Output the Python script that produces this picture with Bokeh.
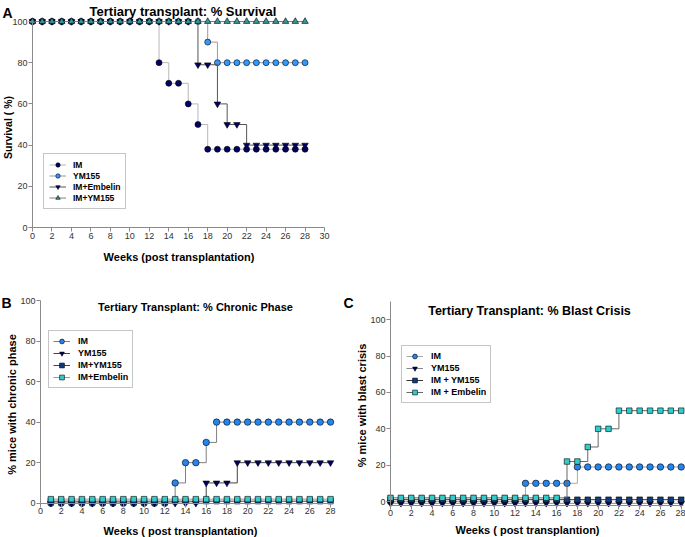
import math
from bokeh.plotting import figure
from bokeh.models import Range1d, Label, Legend, LegendItem, FixedTicker
from bokeh.layouts import column, row
from bokeh.embed import file_html
from bokeh.resources import INLINE

FONT = "Liberation Sans"

# ---------------- Panel A: Tertiary transplant: % Survival ----------------
a_weeks = [0, 1, 2, 3, 4, 5, 6, 7, 8, 9, 10, 11, 12, 13, 14, 15, 16, 17, 18, 19, 20, 21, 22, 23, 24, 25, 26, 27, 28]
a_im = [100, 100, 100, 100, 100, 100, 100, 100, 100, 100, 100, 100, 100, 80, 70, 70, 60, 50,
        38, 38, 38, 38, 38, 38, 38, 38, 38, 38, 38]
a_ym155 = [100, 100, 100, 100, 100, 100, 100, 100, 100, 100, 100, 100, 100, 100, 100, 100, 100, 100,
           90, 80, 80, 80, 80, 80, 80, 80, 80, 80, 80]
a_im_embelin = [100, 100, 100, 100, 100, 100, 100, 100, 100, 100, 100, 100, 100, 100, 100, 100, 100,
                79, 79, 60, 50, 50, 40, 40, 40, 40, 40, 40, 40]
a_im_ym155 = [100, 100, 100, 100, 100, 100, 100, 100, 100, 100, 100, 100, 100, 100, 100, 100, 100,
              100, 100, 100, 100, 100, 100, 100, 100, 100, 100, 100, 100]
a_xticks = [0, 2, 4, 6, 8, 10, 12, 14, 16, 18, 20, 22, 24, 26, 28, 30]
a_yticks = [0, 20, 40, 60, 80, 100]

# ---------------- Panel B: Tertiary Transplant: % Chronic Phase ----------------
b_weeks = [1, 2, 3, 4, 5, 6, 7, 8, 9, 10, 11, 12, 13, 14, 15, 16, 17, 18, 19, 20, 21, 22, 23, 24, 25, 26, 27, 28]
b_im = [0, 0, 0, 0, 0, 0, 0, 0, 0, 0, 0, 0, 10, 20, 20, 30, 40, 40, 40, 40, 40, 40, 40, 40, 40, 40, 40, 40]
b_ym155 = [0, 0, 0, 0, 0, 0, 0, 0, 0, 0, 0, 0, 0, 0, 0, 10, 10, 10, 20, 20, 20, 20, 20, 20, 20, 20, 20, 20]
b_im_ym155 = [1, 1, 1, 1, 1, 1, 1, 1, 1, 1, 1, 1, 1, 1, 1, 1, 1, 1, 1, 1, 1, 1, 1, 1, 1, 1, 1, 1]
b_im_embelin = [2, 2, 2, 2, 2, 2, 2, 2, 2, 2, 2, 2, 2, 2, 2, 2, 2, 2, 2, 2, 2, 2, 2, 2, 2, 2, 2, 2]
b_xticks = [0, 2, 4, 6, 8, 10, 12, 14, 16, 18, 20, 22, 24, 26, 28]
b_yticks = [0, 20, 40, 60, 80, 100]

# ---------------- Panel C: Tertiary Transplant: % Blast Crisis ----------------
c_weeks = [0, 1, 2, 3, 4, 5, 6, 7, 8, 9, 10, 11, 12, 13, 14, 15, 16, 17, 18, 19, 20, 21, 22, 23, 24, 25, 26, 27, 28]
c_im = [0, 0, 0, 0, 0, 0, 0, 0, 0, 0, 0, 0, 0, 10, 10, 10, 10, 10, 19, 19, 19, 19, 19, 19, 19, 19, 19, 19, 19]
c_ym155 = [-1, -1, -1, -1, -1, -1, -1, -1, -1, -1, -1, -1, -1, -1, -1, -1, -1, -1, -1, -1, -1, -1, -1, -1,
           -1, -1, -1, -1, -1]
c_im_ym155 = [1, 1, 1, 1, 1, 1, 1, 1, 1, 1, 1, 1, 1, 1, 1, 1, 1, 1, 1, 1, 1, 1, 1, 1, 1, 1, 1, 1, 1]
c_im_embelin = [2, 2, 2, 2, 2, 2, 2, 2, 2, 2, 2, 2, 2, 2, 2, 2, 2, 22, 22, 30, 40, 40, 50, 50, 50, 50, 50, 50, 50]
c_xticks = [0, 2, 4, 6, 8, 10, 12, 14, 16, 18, 20, 22, 24, 26, 28]
c_yticks = [0, 20, 40, 60, 80, 100]

AXIS_COLOR = "#8a8a8a"


class Geo:
    """Pixel geometry of one panel: the frame fills the whole figure."""

    def __init__(self, origin, W, H, x0px, x1px, x0, x1, y0px, y1px, y0, y1):
        self.ox, self.oy, self.W, self.H = origin[0], origin[1], W, H
        self.sx = (x1px - x0px) / (x1 - x0)
        self.sy = (y0px - y1px) / (y1 - y0)
        self.xs = x0 - (x0px - self.ox) / self.sx
        self.xe = self.xs + W / self.sx
        self.ys = y0 - (self.oy + H - y0px) / self.sy
        self.ye = self.ys + H / self.sy

    def d(self, wx, wy):
        return (self.xs + (wx - self.ox) / self.sx,
                self.ys + (self.oy + self.H - wy) / self.sy)


def make_panel(geo):
    p = figure(width=geo.W, height=geo.H, x_range=Range1d(geo.xs, geo.xe), y_range=Range1d(geo.ys, geo.ye),
               output_backend="svg", toolbar_location=None,
               min_border_left=0, min_border_right=0, min_border_top=0, min_border_bottom=0,
               background_fill_color="white", border_fill_color="white")
    p.outline_line_color = None
    p.xgrid.visible = False
    p.ygrid.visible = False
    for ax in list(p.xaxis) + list(p.yaxis):
        ax.axis_line_color = AXIS_COLOR
        ax.axis_line_width = 1
        ax.major_tick_line_color = AXIS_COLOR
        ax.major_tick_in = 0
        ax.major_tick_out = 4
        ax.minor_tick_line_color = None
        ax.major_label_text_font = FONT
        ax.major_label_text_font_size = "9px"
        ax.major_label_text_color = "#333333"
        ax.major_label_standoff = 1
    return p


def add_text(p, geo, text, wx, wy, size, align="left", baseline="alphabetic", angle=0.0):
    x, y = geo.d(wx, wy)
    p.add_layout(Label(x=x, y=y, text=text, text_font=FONT, text_font_size=f"{size}px",
                       text_font_style="bold", text_color="black", text_align=align,
                       text_baseline=baseline, angle=angle))


def draw_series(p, x, y, marker, fill, line_color, size):
    lr = p.step(x, y, mode="after", line_color=line_color, line_width=1)
    sr = p.scatter(x, y, marker=marker, size=size, fill_color=fill, line_color="black", line_width=0.6)
    return [lr, sr]


def add_legend(p, items, loc, font_size, h, pad, standoff):
    lg = Legend(items=[LegendItem(label=lab, renderers=rs) for lab, rs in items], location=loc,
                label_text_font=FONT, label_text_font_size=f"{font_size}px", label_text_font_style="bold",
                label_text_color="black", glyph_width=17, glyph_height=h, label_height=h,
                label_standoff=standoff, padding=pad, spacing=0, margin=0,
                border_line_color="#8c8c8c", border_line_width=1, background_fill_color="white")
    p.add_layout(lg)


# ================= Panel A =================
HA = 280
ga = Geo((0, 0), 685, HA, 32, 324, 0, 30, 227, 21, 0, 100)
pa = make_panel(ga)
pa.xaxis.ticker = FixedTicker(ticks=a_xticks)
pa.yaxis.ticker = FixedTicker(ticks=a_yticks)
pa.xaxis.bounds = (0, 30)
pa.yaxis.bounds = (0, 100)
pa.xaxis.fixed_location = 0
pa.yaxis.fixed_location = 0

ra1 = draw_series(pa, a_weeks, a_im, "circle", "#000066", "#b8b8b8", 6)
ra2 = draw_series(pa, a_weeks, a_ym155, "circle", "#3399ff", "#9a9a9a", 6)
ra3 = draw_series(pa, a_weeks, a_im_embelin, "inverted_triangle", "#000066", "#555555", 6.5)
ra4 = draw_series(pa, a_weeks, a_im_ym155, "triangle", "#339999", "#808080", 6.5)
add_legend(pa, [("IM", ra1), ("YM155", ra2), ("IM+Embelin", ra3), ("IM+YM155", ra4)],
           (43, HA - 209), 8.5, 11, 5, 7)
add_text(pa, ga, "A", 2, 12, 14)
add_text(pa, ga, "Tertiary transplant: % Survival", 182.5, 10.5, 13, align="center")
add_text(pa, ga, "Survival ( %)", 7.5, 127, 10.5, align="center", angle=math.pi / 2)
add_text(pa, ga, "Weeks (post transplantation)", 178.5, 256, 11, align="center")

# ================= Panel B =================
HB = 537 - HA
WB = 342
gb = Geo((0, HA), WB, HB, 40, 330, 0, 28, 502.7, 300, 0, 100)
pb = make_panel(gb)
pb.xaxis.ticker = FixedTicker(ticks=b_xticks)
pb.yaxis.ticker = FixedTicker(ticks=b_yticks)
pb.xaxis.bounds = (0, 28.3)
pb.yaxis.bounds = (0, 100)
pb.xaxis.fixed_location = 0
pb.yaxis.fixed_location = 0

rb1 = draw_series(pb, b_weeks, b_im, "circle", "#2585ee", "#808080", 6.5)
rb2 = draw_series(pb, b_weeks, b_ym155, "inverted_triangle", "#000066", "#444444", 6.5)
rb3 = draw_series(pb, b_weeks, b_im_ym155, "square", "#0d3b80", "#444444", 5.5)
rb4 = draw_series(pb, b_weeks, b_im_embelin, "square", "#33cccc", "#9a9a9a", 5.5)
add_legend(pb, [("IM", rb1), ("YM155", rb2), ("IM+YM155", rb3), ("IM+Embelin", rb4)],
           (48, 537 - 388), 9, 12, 4, 8)
add_text(pb, gb, "B", 1, 302, 14)
add_text(pb, gb, "Tertiary Transplant: % Chronic Phase", 195, 306, 11, align="center")
add_text(pb, gb, "% mice with chronic phase", 11.5, 404, 11, align="center", angle=math.pi / 2)
add_text(pb, gb, "Weeks ( post transplantation)", 180, 530.5, 11, align="center")

# ================= Panel C =================
WC = 685 - WB
gc = Geo((WB, HA), WC, HB, 390, 680.7, 0, 28, 501, 319.3, 0, 100)
pc = make_panel(gc)
pc.xaxis.ticker = FixedTicker(ticks=c_xticks)
pc.yaxis.ticker = FixedTicker(ticks=c_yticks)
pc.xaxis.bounds = (0, 28.2)
pc.yaxis.bounds = (-2.2, 110)
pc.xaxis.fixed_location = -2.2
pc.yaxis.fixed_location = 0

rc1 = draw_series(pc, c_weeks, c_im, "circle", "#2585ee", "#aaaaaa", 6.5)
rc2 = draw_series(pc, c_weeks, c_ym155, "inverted_triangle", "#000066", "#888888", 6.5)
rc3 = draw_series(pc, c_weeks, c_im_ym155, "square", "#0d3b80", "#333333", 5.5)
rc4 = draw_series(pc, c_weeks, c_im_embelin, "square", "#33cccc", "#666666", 5.5)
add_legend(pc, [("IM", rc1), ("YM155", rc2), ("IM + YM155", rc3), ("IM + Embelin", rc4)],
           (401 - WB, 537 - 403), 9, 12, 4, 8)
add_text(pc, gc, "C", 343, 302, 14)
add_text(pc, gc, "Tertiary Transplant: % Blast Crisis", 529, 310.5, 12.5, align="center")
add_text(pc, gc, "% mice with blast crisis", 361, 405, 11, align="center", angle=math.pi / 2)
add_text(pc, gc, "Weeks ( post transplantion)", 527, 529.5, 11, align="center")

layout = column(pa, row(pb, pc))
open("out.html", "w").write(file_html(layout, INLINE))
